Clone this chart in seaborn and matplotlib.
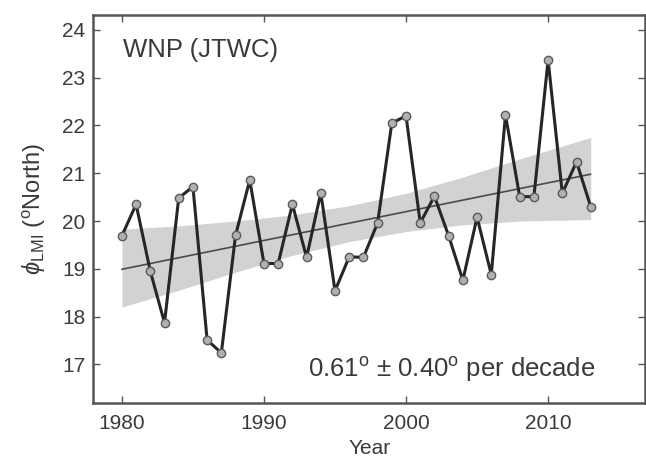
import numpy as np
import pandas as pd
import matplotlib
matplotlib.use("Agg")
import matplotlib.pyplot as plt
import seaborn as sns

# values
years = list(range(1980, 2014))
lat_lmi = [19.69, 20.35, 18.95, 17.87, 20.48, 20.72, 17.51, 17.24, 19.70, 20.86,
           19.11, 19.11, 20.35, 19.24, 20.59, 18.54, 19.25, 19.24, 19.96, 22.05,
           22.20, 19.96, 20.52, 19.69, 18.76, 20.08, 18.88, 22.22, 20.51, 20.51,
           23.37, 20.58, 21.24, 20.30]
trend_years = [1980, 2013]
trend_vals = [18.99, 20.98]
band_years = [1980, 1984, 1988, 1992, 1996, 2000, 2004, 2008, 2013]
band_hi = [19.83, 19.90, 20.00, 20.13, 20.32, 20.58, 20.92, 21.30, 21.75]
band_lo = [18.20, 18.55, 18.93, 19.28, 19.57, 19.78, 19.92, 20.00, 20.03]
xticks = [1980, 1990, 2000, 2010]
yticks = [17, 18, 19, 20, 21, 22, 23, 24]

sns.set_theme(style="ticks")
plt.rcParams["font.family"] = ["Liberation Sans", "DejaVu Sans"]
plt.rcParams["mathtext.fontset"] = "custom"
plt.rcParams["mathtext.rm"] = "Liberation Sans"
plt.rcParams["mathtext.it"] = "Liberation Sans:italic"
txt = "#3a3a3a"
edge = "#555555"

df = pd.DataFrame({"year": years, "lat": lat_lmi})
trend = pd.DataFrame({"year": trend_years, "lat": trend_vals})

fig = plt.figure(figsize=(6.46, 4.57), dpi=100)
ax = fig.add_axes([0.1447, 0.118, 0.8533, 0.849])

ax.fill_between(band_years, band_lo, band_hi, color="#d2d2d2", lw=0, zorder=1)
sns.lineplot(data=trend, x="year", y="lat", ax=ax, color="#4a4a4a", lw=1.2, zorder=2)
sns.lineplot(data=df, x="year", y="lat", ax=ax, color="#262626", lw=2.2,
             marker="o", markersize=6, markerfacecolor="#b0b0b0",
             markeredgecolor="#5a5a5a", markeredgewidth=1.0, zorder=3)

ax.set_xlim(1978, 2016.8)
ax.set_ylim(16.19, 24.31)
ax.set_xticks(xticks)
ax.set_yticks(yticks)
ax.tick_params(direction="in", top=True, right=True, length=5, width=1,
               colors=edge, labelcolor=txt, labelsize=15)
ax.tick_params(axis="x", pad=8)
ax.tick_params(axis="y", pad=6)
for s in ax.spines.values():
    s.set_color(edge)
    s.set_linewidth(1.8)

ax.set_xlabel("Year", fontsize=15, color=txt, labelpad=4)
ax.set_ylabel(r"$\phi_{\mathrm{LMI}}$ ($^{\mathrm{o}}$North)", fontsize=17, color=txt, labelpad=10)
ax.text(0.054, 0.91, "WNP (JTWC)", transform=ax.transAxes, fontsize=18.5, color=txt,
        ha="left", va="center")
ax.text(0.389, 0.086, r"0.61$^{\mathrm{o}}$ $\pm$ 0.40$^{\mathrm{o}}$ per decade",
        transform=ax.transAxes, fontsize=18.5, color=txt, ha="left", va="center")

fig.savefig("out.png", dpi=100)
